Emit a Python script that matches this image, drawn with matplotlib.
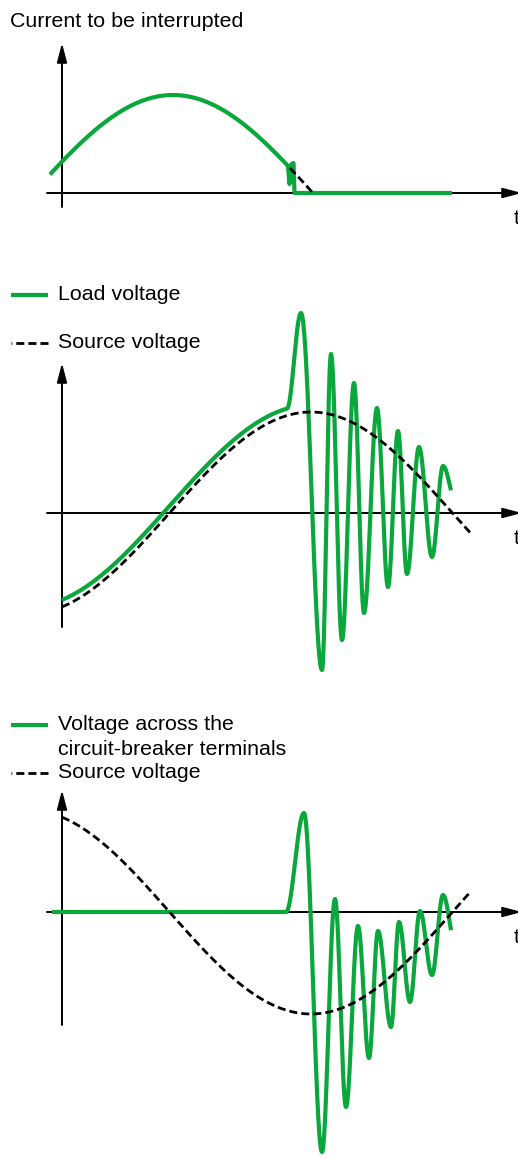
import numpy as np
import matplotlib
matplotlib.use("Agg")
import matplotlib.pyplot as plt

GREEN = "#0aa83c"
FONT = "Liberation Sans"
FS = 15.4

# schematic units: x = position along the time axis, v = height above the time axis
# panel 1 - current to be interrupted
current_knots_x = [-107, 173, 453]
current_knots_v = [-98, 98, -98]
current_span = [50, 288]
chop_x = [288, 289.5, 291.5, 293.5, 294.5, 452]
chop_v = [27, 9, 29, 30, 0, 0]
current_tail_span = [290, 313]

# panel 2 - load voltage / source voltage
src2_knots_x = [28, 311, 594]
src2_knots_v = [-101, 101, -101]
src2_span = [62, 470]
load_knots_x = [28, 311]
load_knots_v = [-94, 108]
load_span = [62, 287]
load_osc_x = [301, 322, 331, 342, 354, 364, 377, 388, 398, 407, 419, 432, 443, 456]
load_osc_v = [200, -157, 159, -127, 130, -100, 105, -74, 82, -61, 66, -44, 47, 11]
load_end = 451

# panel 3 - voltage across the circuit-breaker terminals / source voltage
src3_knots_x = [28, 311, 594]
src3_knots_v = [102, -102, 102]
src3_span = [62, 471]
cb_flat = [52, 286]
cb_osc_x = [304, 322, 335, 346, 358, 369, 378, 391, 399, 410, 420, 432, 443, 456]
cb_osc_v = [99, -240, 13, -195, -14, -146, -19, -115, -10, -90, 1, -63, 17, -35]
cb_end = 451


def wave(kx, kv, x0, x1, n=800):
    # half-cosine strokes between the read-off extrema
    kx = np.asarray(kx, float)
    kv = np.asarray(kv, float)
    x = np.linspace(x0, x1, n)
    i = np.clip(np.searchsorted(kx, x, side="right") - 1, 0, len(kx) - 2)
    t = (x - kx[i]) / (kx[i + 1] - kx[i])
    return x, kv[i] + (kv[i + 1] - kv[i]) * (1 - np.cos(np.pi * t)) / 2


W, H = 518, 1158
fig = plt.figure(figsize=(W / 100, H / 100), dpi=100)


def panel(top, bottom, y0):
    ax = fig.add_axes([0, 1 - bottom / H, 1, (bottom - top) / H])
    ax.set_xlim(0, W)
    ax.set_ylim(y0 - bottom, y0 - top)
    ax.axis("off")
    return ax


def arrow(ax, start, tip):
    ax.annotate("", xy=tip, xytext=start, annotation_clip=False,
                arrowprops=dict(arrowstyle="-|>,head_length=1.15,head_width=0.3",
                                lw=1.4, color="black", shrinkA=0, shrinkB=0,
                                mutation_scale=10), zorder=1)


def draw_axes(ax, v_bottom, v_top):
    arrow(ax, (47, 0), (522, 0))
    arrow(ax, (62, v_bottom), (62, v_top))
    ax.text(513.5, -31, "t", fontsize=FS, family=FONT, va="baseline", ha="left")


def green(ax, x, y):
    ax.plot(x, y, color=GREEN, lw=3, solid_capstyle="butt", solid_joinstyle="round", zorder=2)


def dashed(ax, x, y):
    ax.plot(x, y, color="black", lw=2.0, dashes=(2.9, 1.45), zorder=3)


def legend_row(ax, v, kind, lines):
    if kind == "solid":
        green(ax, [11, 48], [v, v])
    else:
        dashed(ax, [48, 11], [v, v])
    for k, s in enumerate(lines):
        ax.text(58, v - 5 - 25 * k, s, fontsize=FS, family=FONT, va="baseline", ha="left")


# ---- panel 1
ax1 = panel(0, 260, 193)
draw_axes(ax1, -14, 150)
ax1.text(10, 166, "Current to be interrupted", fontsize=FS, family=FONT, va="baseline")
x, v = wave(current_knots_x, current_knots_v, *current_span)
green(ax1, np.concatenate([x, chop_x]), np.concatenate([v, chop_v]))
x, v = wave(current_knots_x, current_knots_v, *current_tail_span)
dashed(ax1, x, v)

# ---- panel 2
ax2 = panel(260, 700, 513)
draw_axes(ax2, -114, 150)
legend_row(ax2, 218, "solid", ["Load voltage"])
legend_row(ax2, 170, "dash", ["Source voltage"])
x_pre, v_pre = wave(load_knots_x, load_knots_v, *load_span)
x_osc, v_osc = wave([load_span[1]] + load_osc_x, [v_pre[-1]] + load_osc_v, load_span[1], load_end)
green(ax2, np.concatenate([x_pre, x_osc]), np.concatenate([v_pre, v_osc]))
x, v = wave(src2_knots_x, src2_knots_v, *src2_span)
dashed(ax2, x, v)

# ---- panel 3
ax3 = panel(700, 1158, 912)
draw_axes(ax3, -113, 122)
legend_row(ax3, 187, "solid", ["Voltage across the", "circuit-breaker terminals"])
legend_row(ax3, 139, "dash", ["Source voltage"])
x_osc, v_osc = wave([cb_flat[1]] + cb_osc_x, [0] + cb_osc_v, cb_flat[1], cb_end)
green(ax3, np.concatenate([cb_flat, x_osc]), np.concatenate([[0, 0], v_osc]))
x, v = wave(src3_knots_x, src3_knots_v, *src3_span)
dashed(ax3, x, v)

fig.savefig("out.png", dpi=100)
